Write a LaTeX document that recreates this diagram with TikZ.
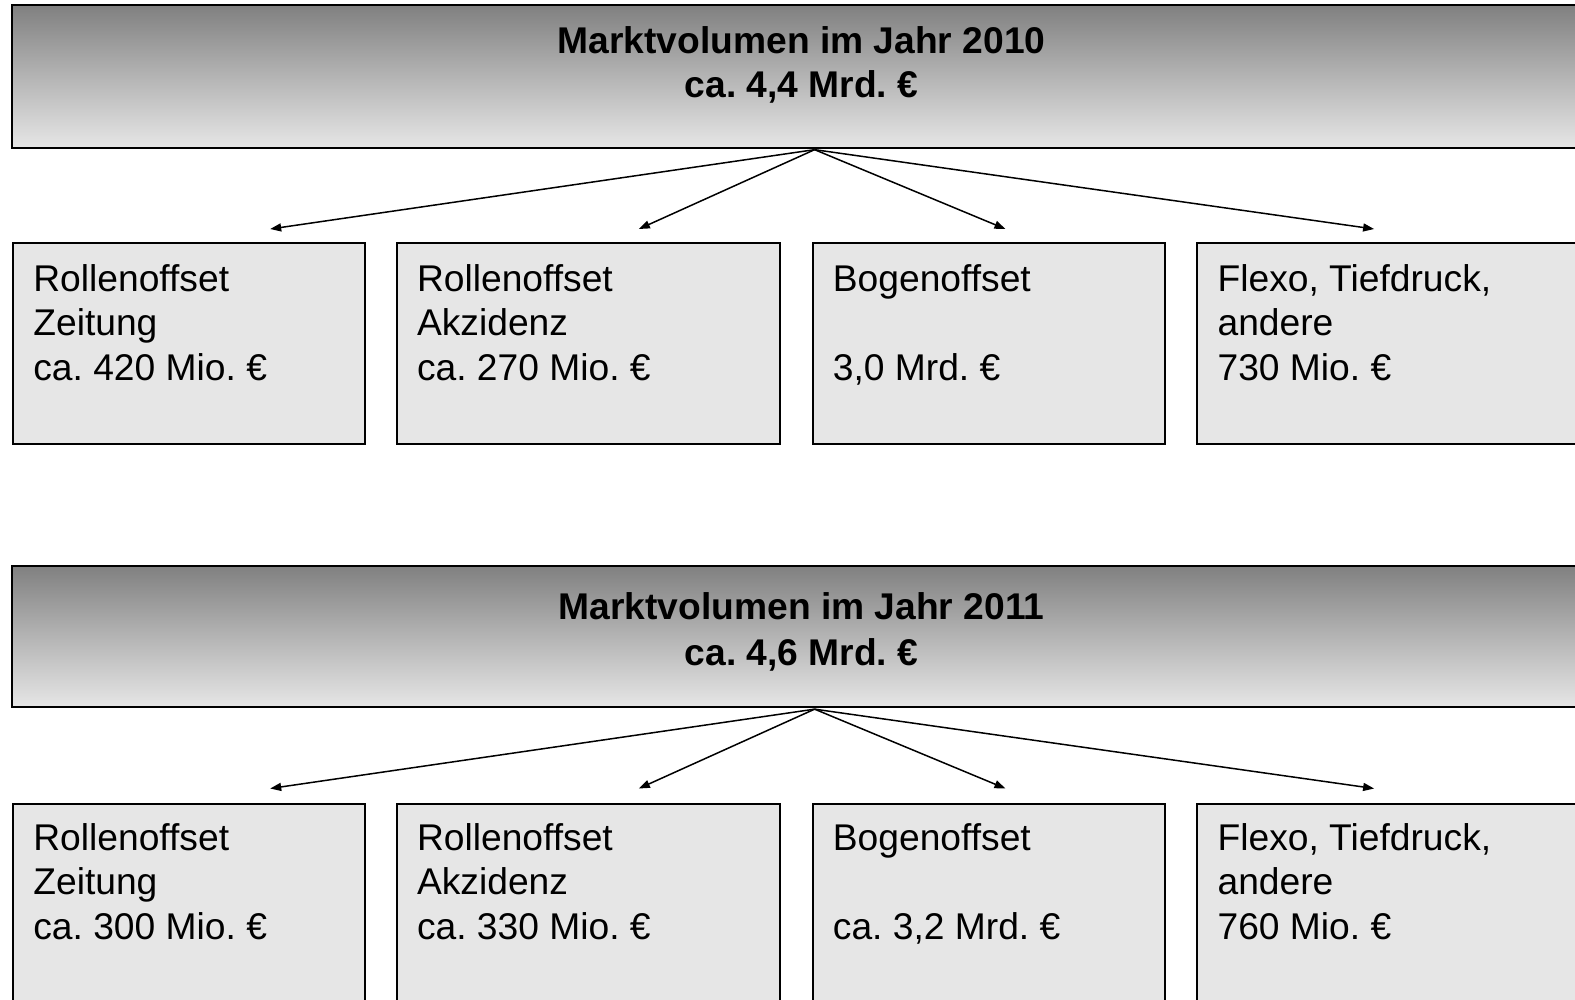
\documentclass[tikz,border=0pt]{standalone}
\usepackage{fontspec}
\setmainfont{Liberation Sans}
\usetikzlibrary{arrows.meta}
\definecolor{boxgray}{RGB}{230,230,230}
\definecolor{darkgray}{RGB}{128,128,128}
\tikzset{
  headbox/.style={draw=black, line width=2bp, top color=darkgray, bottom color=boxgray, middle color={rgb,255:red,180;green,180;blue,180}},
  subbox/.style={draw=black, line width=2bp, fill=boxgray},
  titletxt/.style={inner sep=0pt, anchor=base, font=\frenchspacing\fontsize{37.2bp}{44bp}\selectfont\bfseries},
  bodytxt/.style={inner sep=0pt, anchor=base west, font=\frenchspacing\fontsize{37.2bp}{44.5bp}\selectfont},
  conn/.style={line width=1.5bp, -{Triangle[length=11bp,width=8bp]}}
}
\begin{document}
\begin{tikzpicture}[x=1.00446bp,y=-1.00446bp]
\useasboundingbox (0,0) rectangle (1568,995.56);
\clip (0,0) rectangle (1568,995.56);
% ---------- 2010 ----------
\draw[headbox] (12,5) rectangle (1590,147);
\coordinate (top1) at (811,149);
\node[titletxt] (t1a) at (798,53) {Marktvolumen im Jahr 2010};
\node[titletxt] (t1b) at (798,97) {ca. 4,4 Mrd. €};
\draw[subbox] (13,242) rectangle (363,442);
\draw[subbox] (395,242) rectangle (777,442);
\draw[subbox] (809,242) rectangle (1160,442);
\draw[subbox] (1192,242) rectangle (1590,442);
\coordinate (e11) at (269,228);
\coordinate (e12) at (636,228);
\coordinate (e13) at (1001,228);
\coordinate (e14) at (1368,228);
\foreach \e in {e11,e12,e13,e14} \draw[conn] (top1) -- (\e);
\node[bodytxt] (a1) at (33,290) {Rollenoffset};
\node[bodytxt] (a2) at (33,334.5) {Zeitung};
\node[bodytxt] (a3) at (33,379) {ca. 420 Mio. €};
\node[bodytxt] (b1) at (415,290) {Rollenoffset};
\node[bodytxt] (b2) at (415,334.5) {Akzidenz};
\node[bodytxt] (b3) at (415,379) {ca. 270 Mio. €};
\node[bodytxt] (c1) at (829,290) {Bogenoffset};
\node[bodytxt] (c3) at (829,379) {3,0 Mrd. €};
\node[bodytxt] (d1) at (1212,290) {Flexo, Tiefdruck,};
\node[bodytxt] (d2) at (1212,334.5) {andere};
\node[bodytxt] (d3) at (1212,379) {730 Mio. €};
% ---------- 2011 ----------
\draw[headbox] (12,563) rectangle (1590,704);
\coordinate (top2) at (811,706);
\node[titletxt] (t2a) at (798,617) {Marktvolumen im Jahr 2011};
\node[titletxt] (t2b) at (798,663) {ca. 4,6 Mrd. €};
\draw[subbox] (13,800) rectangle (363,1020);
\draw[subbox] (395,800) rectangle (777,1020);
\draw[subbox] (809,800) rectangle (1160,1020);
\draw[subbox] (1192,800) rectangle (1590,1020);
\coordinate (e21) at (269,785);
\coordinate (e22) at (636,785);
\coordinate (e23) at (1001,785);
\coordinate (e24) at (1368,785);
\foreach \e in {e21,e22,e23,e24} \draw[conn] (top2) -- (\e);
\node[bodytxt] (f1) at (33,846.5) {Rollenoffset};
\node[bodytxt] (f2) at (33,891) {Zeitung};
\node[bodytxt] (f3) at (33,935.5) {ca. 300 Mio. €};
\node[bodytxt] (g1) at (415,846.5) {Rollenoffset};
\node[bodytxt] (g2) at (415,891) {Akzidenz};
\node[bodytxt] (g3) at (415,935.5) {ca. 330 Mio. €};
\node[bodytxt] (h1) at (829,846.5) {Bogenoffset};
\node[bodytxt] (h3) at (829,935.5) {ca. 3,2 Mrd. €};
\node[bodytxt] (k1) at (1212,846.5) {Flexo, Tiefdruck,};
\node[bodytxt] (k2) at (1212,891) {andere};
\node[bodytxt] (k3) at (1212,935.5) {760 Mio. €};
\end{tikzpicture}
\end{document}
